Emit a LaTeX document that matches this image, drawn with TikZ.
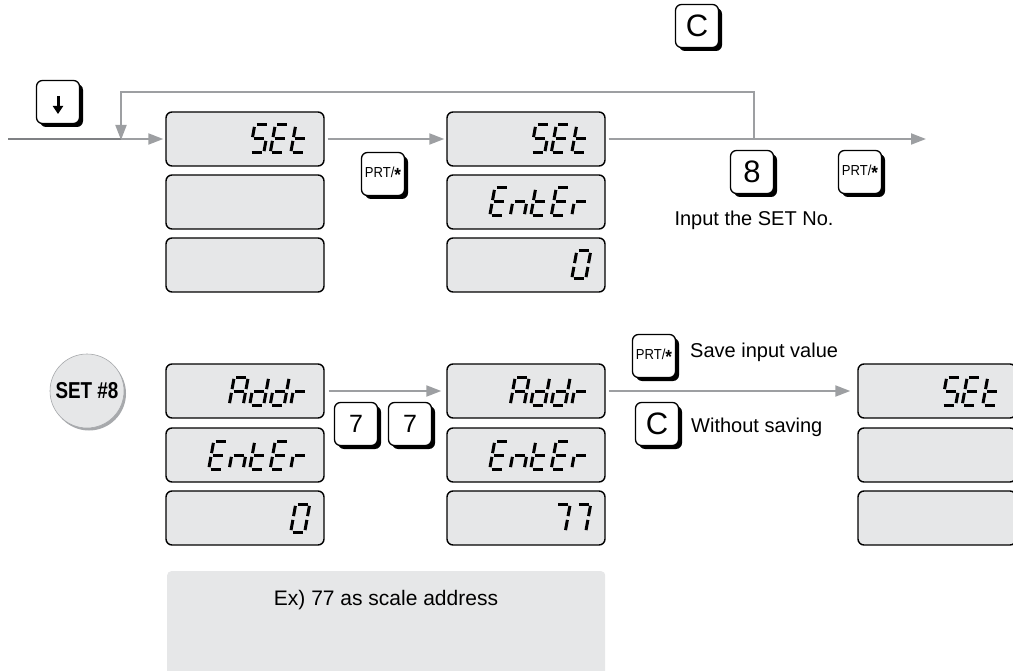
\documentclass[tikz,border=0pt]{standalone}
\usepackage{fontspec}
\setmainfont{Liberation Sans}
\newfontfamily\condfont[FakeStretch=0.82]{Liberation Sans}
\newfontfamily\keyfont[FakeStretch=0.9]{Liberation Sans}
\usetikzlibrary{arrows.meta,calc,shadows}
\definecolor{lcd}{HTML}{E6E7E8}
\definecolor{arr}{HTML}{9D9FA2}
\definecolor{arrdark}{HTML}{7F8184}
\definecolor{shad}{HTML}{A7A9AC}
\tikzset{
  seg/.style={draw=black, line width=3pt},
  disp/.style={draw=black, line width=1.4pt, fill=lcd, rounded corners=6pt,
    minimum width=158pt, minimum height=54pt, inner sep=0pt},
  flow/.style={draw=arr, line width=2pt, -{Triangle[length=15pt,width=11pt]}},
  flowline/.style={draw=arr, line width=2pt},
  key/.style={draw=black, line width=1.3pt, fill=white, rounded corners=6pt,
    minimum width=43pt, minimum height=43pt, inner sep=0pt,
    drop shadow={shadow xshift=3.5pt, shadow yshift=-3.5pt, fill=black, opacity=1}},
  bigkey/.style={key, font=\fontsize{31}{31}\selectfont},
  midkey/.style={key, font=\fontsize{25}{25}\selectfont},
  prtkey/.style={key, font=\keyfont\fontsize{14.5}{14.5}\selectfont},
  lbl/.style={font=\fontsize{20}{20}\selectfont, inner sep=0pt},
  setcirc/.style={circle, fill=lcd, draw=shad, line width=0.6pt, minimum size=74pt,
    inner sep=0pt, font=\condfont\bfseries\fontsize{23}{23}\selectfont,
    drop shadow={shadow xshift=2pt, shadow yshift=-2.5pt, fill=shad, opacity=1}},
}
\newcommand\prt{PRT/\raisebox{-0.55ex}{\fontsize{19}{19}\selectfont\bfseries *}}
% seven-segment pieces (cell 14 x 28)
\newcommand\sA{\draw[seg] (1.9,28)--(12.1,28);}
\newcommand\sB{\draw[seg] (14,26.1)--(14,15.9);}
\newcommand\sC{\draw[seg] (14,12.1)--(14,1.9);}
\newcommand\sD{\draw[seg] (1.9,0)--(12.1,0);}
\newcommand\sE{\draw[seg] (0,1.9)--(0,12.1);}
\newcommand\sF{\draw[seg] (0,15.9)--(0,26.1);}
\newcommand\sG{\draw[seg] (1.9,14)--(12.1,14);}
\newcommand\LcS{\sA\sF\sG\sC\sD}
\newcommand\LcE{\sA\sF\sG\sE\sD}
\newcommand\Lct{\sF\sE\sG\sD}
\newcommand\Lcn{\sE\sG\sC}
\newcommand\Lcr{\sE\sG}
\newcommand\LcA{\sA\sB\sC\sE\sF\sG}
\newcommand\Lcd{\sB\sC\sD\sE\sG}
\newcommand\LcZero{\sA\sB\sC\sD\sE\sF}
\newcommand\LcSeven{\sA\sB\sC}
% #1 node name, #2 characters from right to left
\newcommand\lcdword[2]{\foreach \lch [count=\li from 0] in {#2}{%
  \begin{scope}[shift={($(#1.east)+(-34-20.5*\li,14)$)},x={(1pt,0pt)},y={(0.18pt,1pt)}]\lch\end{scope}}}
\begin{document}
\begin{tikzpicture}[x=1pt,y=-1pt]
\useasboundingbox (0,0) rectangle (1013,671);
% displays
\node[disp] (s1a) at (245,139) {};
\node[disp] (s1b) at (245,202) {};
\node[disp] (s1c) at (245,265) {};
\node[disp] (s2a) at (526,139) {};
\node[disp] (s2b) at (526,202) {};
\node[disp] (s2c) at (526,265) {};
\node[disp] (a1a) at (245,391) {};
\node[disp] (a1b) at (245,455) {};
\node[disp] (a1c) at (245,518) {};
\node[disp] (a2a) at (526,391) {};
\node[disp] (a2b) at (526,455) {};
\node[disp] (a2c) at (526,518) {};
\node[disp] (f1a) at (937,391) {};
\node[disp] (f1b) at (937,455) {};
\node[disp] (f1c) at (937,518) {};
\lcdword{s1a}{\Lct,\LcE,\LcS}
\lcdword{s2a}{\Lct,\LcE,\LcS}
\lcdword{s2b}{\Lcr,\LcE,\Lct,\Lcn,\LcE}
\lcdword{s2c}{\LcZero}
\lcdword{a1a}{\Lcr,\Lcd,\Lcd,\LcA}
\lcdword{a1b}{\Lcr,\LcE,\Lct,\Lcn,\LcE}
\lcdword{a1c}{\LcZero}
\lcdword{a2a}{\Lcr,\Lcd,\Lcd,\LcA}
\lcdword{a2b}{\Lcr,\LcE,\Lct,\Lcn,\LcE}
\lcdword{a2c}{\LcSeven,\LcSeven}
\lcdword{f1a}{\Lct,\LcE,\LcS}
% connectors top
\coordinate (in) at (8,139);
\coordinate (jL) at (121,139);
\coordinate (tl) at (121,92);
\coordinate (tr) at (754,92);
\coordinate (jR) at (754,139);
\coordinate (out) at (926,139);
\draw[draw=arrdark, line width=2pt] (in) -- (jL);
\draw[flow, shorten >=2pt] (jL) -- (s1a.west);
\draw[flow, shorten <=3pt, shorten >=2pt] (s1a.east) -- (s2a.west);
\draw[flow, shorten <=3pt] (s2a.east) -- (out);
\draw[flow] (jR) -- (tr) -- (tl) -- ([yshift=-1pt]jL);
% connectors bottom
\draw[flow, shorten <=4pt, shorten >=5pt] (a1a.east) -- (a2a.west);
\draw[flow, shorten <=3pt, shorten >=7pt] (a2a.east) -- (f1a.west);
% keys
\node[key] (kdown) at (58,102) {};
\draw[line width=3pt, -{Triangle[length=8pt,width=10pt]}] ($(kdown.center)+(0,-6)$) -- ($(kdown.center)+(0,12)$);
\node[prtkey] (kprt1) at (383,174) {\prt};
\node[bigkey] (kC1) at (697,26) {C};
\node[bigkey] (k8) at (752,172) {8};
\node[prtkey] (kprt2) at (860,172) {\prt};
\node[midkey] (k7a) at (356,424) {7};
\node[midkey] (k7b) at (410,424) {7};
\node[prtkey] (kprt3) at (654,356) {\prt};
\node[bigkey] (kC2) at (657,424) {C};
% labels
\node[lbl] (tset) at (754,220) {Input the SET No.};
\node[lbl, anchor=west] (tsave) at (690,352) {Save input value};
\node[lbl, anchor=west] (two) at (691,427) {Without saving};
% set circle
\node[setcirc] (set8) at (87,391) {SET \#8};
% example box
\node[fill=lcd, rounded corners=4pt, minimum width=438pt, minimum height=120pt,
  anchor=north west, inner sep=0pt] (exbox) at (167,571) {};
\node[font=\fontsize{21}{21}\selectfont, inner sep=0pt] (extext) at (386,600) {Ex) 77 as scale address};
\end{tikzpicture}
\end{document}
